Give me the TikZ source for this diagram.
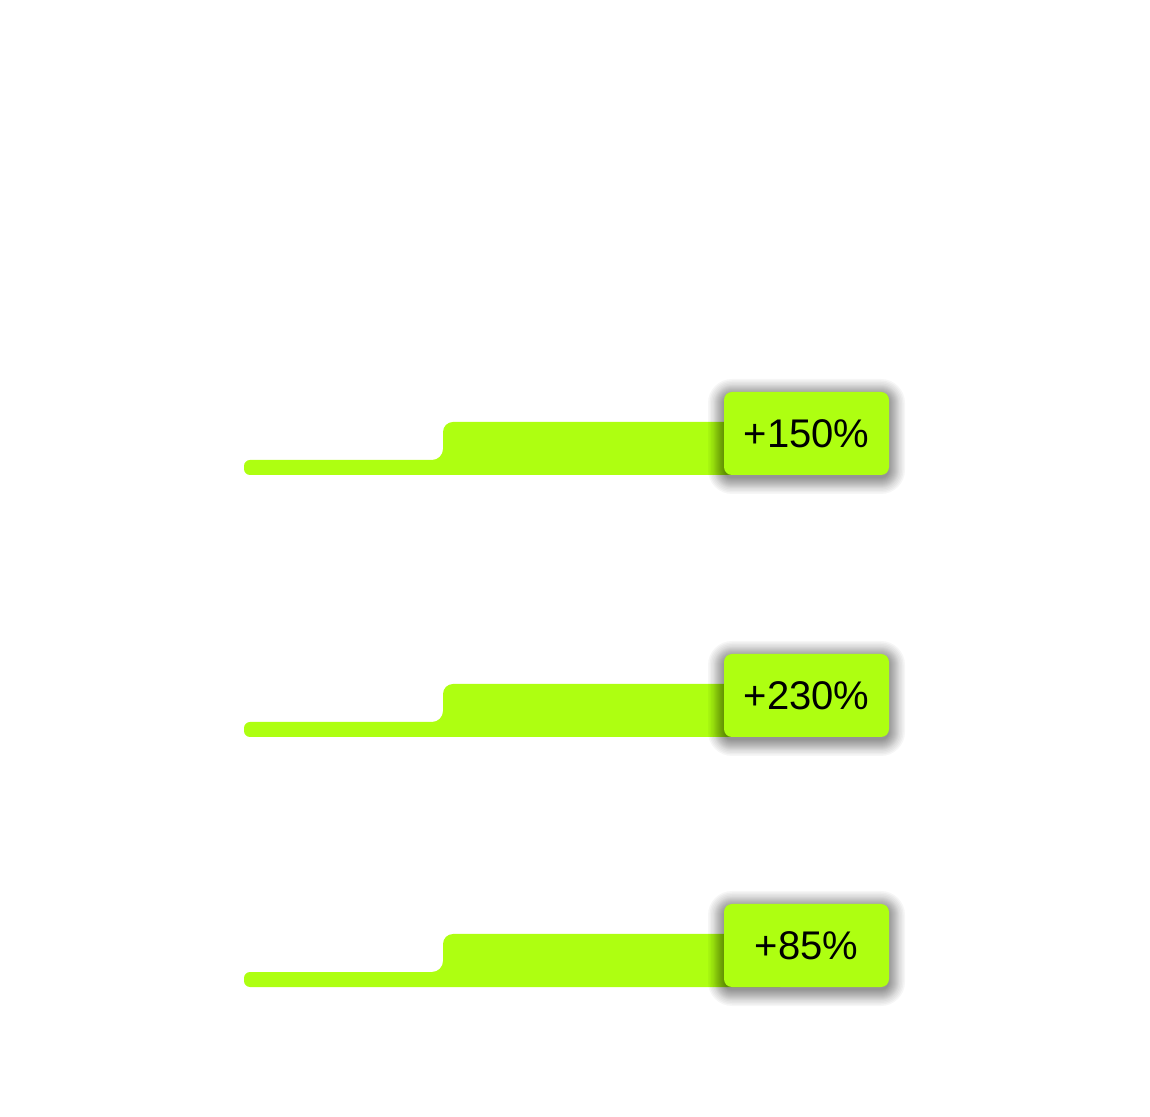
\documentclass[tikz,border=0pt]{standalone}
\usepackage{fontspec}
\setmainfont{Liberation Sans}
\definecolor{lime}{RGB}{174,255,17}
\tikzset{
  barfill/.style={fill=lime},
  labelbox/.style={fill=lime, rounded corners=8pt, minimum width=165pt, minimum height=83pt, inner sep=0pt, text=black, font=\fontsize{40}{48}\selectfont},
  shadowlayer/.style={fill=black, opacity=0.035}
}
\begin{document}
\begin{tikzpicture}[x=1pt,y=1pt]
\useasboundingbox (0,0) rectangle (1150,1116);
\foreach \B/\txt/\nm in {641/{+150\%}/b1, 379/{+230\%}/b2, 129/{+85\%}/b3}{
  % bar
  \fill[barfill] (780,\B) -- (250,\B) arc[start angle=270,end angle=180,radius=6]
    -- (244,\B+9) arc[start angle=180,end angle=90,radius=6]
    -- (432,\B+15) arc[start angle=-90,end angle=0,radius=11]
    -- (443,\B+43) arc[start angle=180,end angle=90,radius=10]
    -- (780,\B+53) -- cycle;
  % soft shadow
  \foreach \i in {0,1,2,3,4,5,6,7,8,9,10,11.5,13,14.5,16}{
    \fill[shadowlayer, rounded corners=8+\i] (724-\i,\B-3-\i) rectangle (889+\i,\B+80+\i);
  }
  % label
  \node[labelbox] (\nm) at (806.5,\B+41.5) {\txt};
}
\end{tikzpicture}
\end{document}
